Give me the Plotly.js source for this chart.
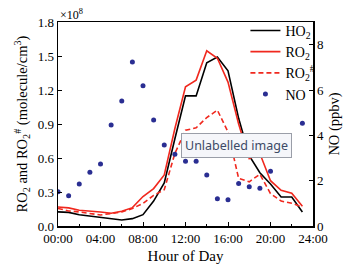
<!DOCTYPE html>
<html>
<head>
<meta charset="utf-8">
<script src="https://cdn.plot.ly/plotly-3.0.1.min.js"></script>
<style>html,body{margin:0;padding:0;background:#fff;}#chart{width:353px;height:268px;}</style>
</head>
<body>
<div id="chart"></div>
<script>
// Hour of day (0..23)
var hours = [0,1,2,3,4,5,6,7,8,9,10,11,12,13,14,15,16,17,18,19,20,21,22,23];
// HO2 (x1e8 molecule/cm3)
var ho2 = [0.125,0.12,0.10,0.088,0.071,0.065,0.053,0.065,0.10,0.22,0.38,0.77,1.148,1.148,1.44,1.49,1.37,0.95,0.62,0.47,0.37,0.256,0.256,0.124];
// RO2 (x1e8 molecule/cm3)
var ro2 = [0.168,0.16,0.139,0.133,0.124,0.112,0.13,0.162,0.26,0.33,0.45,0.86,1.228,1.287,1.546,1.48,1.27,0.90,0.595,0.64,0.40,0.315,0.29,0.174];
// RO2# (x1e8 molecule/cm3)
var ro2h = [0.155,0.133,0.124,0.11,0.097,0.11,0.124,0.154,0.20,0.27,0.32,0.64,0.845,0.866,0.957,1.022,0.83,0.42,0.39,0.457,0.286,0.22,0.20,0.168];
// NO (ppbv)
var noHours = [0,1,2,3,4,5,6,7,8,9,10,11,12,13,14,15,16,17,18,19,20,23];
var noVals = [1.51,1.33,1.85,2.37,2.73,4.46,5.51,7.24,6.19,4.68,3.57,3.16,2.86,2.86,2.25,1.2,1.16,1.88,1.73,1.66,2.42,4.53];
// tick labels
var xTickVals = [0,4,8,12,16,20,24];
var xTickText = ["00:00","04:00","08:00","12:00","16:00","20:00","24:00"];
var yTickVals = [0,0.3,0.6,0.9,1.2,1.5,1.8];
var y2TickVals = [0,2,4,6,8];

var serif = "Liberation Serif, Times New Roman, serif";
var red = "#f0281e";

var traces = [
  {x: hours, y: ho2, name: "HO<sub>2</sub>", type: "scatter", mode: "lines",
   line: {color: "#000000", width: 1.6}},
  {x: hours, y: ro2, name: "RO<sub>2</sub>", type: "scatter", mode: "lines",
   line: {color: red, width: 1.6}},
  {x: hours, y: ro2h, name: "RO<sub>2</sub><sup>#</sup>", type: "scatter", mode: "lines",
   line: {color: red, width: 1.6, dash: "5px,3px"}},
  {x: noHours, y: noVals, name: "NO", type: "scatter", mode: "markers", yaxis: "y2",
   marker: {color: "#2a2e92", size: 5}}
];

var layout = {
  width: 353, height: 268,
  margin: {l: 58, r: 40, t: 22, b: 42},
  paper_bgcolor: "#ffffff", plot_bgcolor: "#ffffff",
  font: {family: serif, size: 13, color: "#000"},
  showlegend: true,
  legend: {x: 0.735, y: 1.035, xanchor: "left", yanchor: "top", bgcolor: "rgba(0,0,0,0)",
           font: {family: serif, size: 14, color: "#000"}, tracegroupgap: 0},
  xaxis: {range: [0, 24], tickvals: xTickVals, ticktext: xTickText, showgrid: false, zeroline: false,
          showline: true, linecolor: "#000", linewidth: 1.5, mirror: true,
          ticks: "inside", ticklen: 4, tickcolor: "#000", tickwidth: 1,
          minor: {dtick: 2, ticks: "inside", ticklen: 2.5, tickcolor: "#000", showgrid: false},
          tickfont: {family: serif, size: 13},
          title: {text: "Hour of Day", font: {family: serif, size: 15}, standoff: 5}},
  yaxis: {range: [0, 1.8], tickvals: yTickVals, tickformat: ".1f", showgrid: false, zeroline: false,
          showline: true, linecolor: "#000", linewidth: 1.5,
          ticks: "inside", ticklen: 4, tickcolor: "#000",
          tickfont: {family: serif, size: 13},
          title: {text: "RO<sub>2</sub> and RO<sub>2</sub><sup>#</sup> (molecule/cm<sup>3</sup>)", font: {family: serif, size: 14.5}, standoff: 6}},
  yaxis2: {range: [0, 9], tickvals: y2TickVals, overlaying: "y", side: "right", showgrid: false, zeroline: false,
           showline: true, linecolor: "#000", linewidth: 1.5,
           ticks: "inside", ticklen: 4, tickcolor: "#000",
           tickfont: {family: serif, size: 13},
           title: {text: "NO (ppbv)", font: {family: serif, size: 14.5}, standoff: 6}},
  annotations: [
    {xref: "paper", yref: "paper", x: 0, y: 1, xanchor: "left", yanchor: "bottom", yshift: -2,
     text: "×10<sup>8</sup>", showarrow: false, font: {family: serif, size: 12, color: "#000"}},
    {xref: "paper", yref: "paper", x: (181 - 58) / 255, y: (226 - 133) / 204, xanchor: "left", yanchor: "top",
     text: "Unlabelled image", showarrow: false, bgcolor: "#f5f6fa", bordercolor: "#9a9ea8", borderwidth: 1,
     borderpad: 3, font: {family: "Noto Sans, sans-serif", size: 12.5, color: "#3c4a66"}}
  ]
};

Plotly.newPlot("chart", traces, layout, {displayModeBar: false, staticPlot: true});
</script>
</body>
</html>
